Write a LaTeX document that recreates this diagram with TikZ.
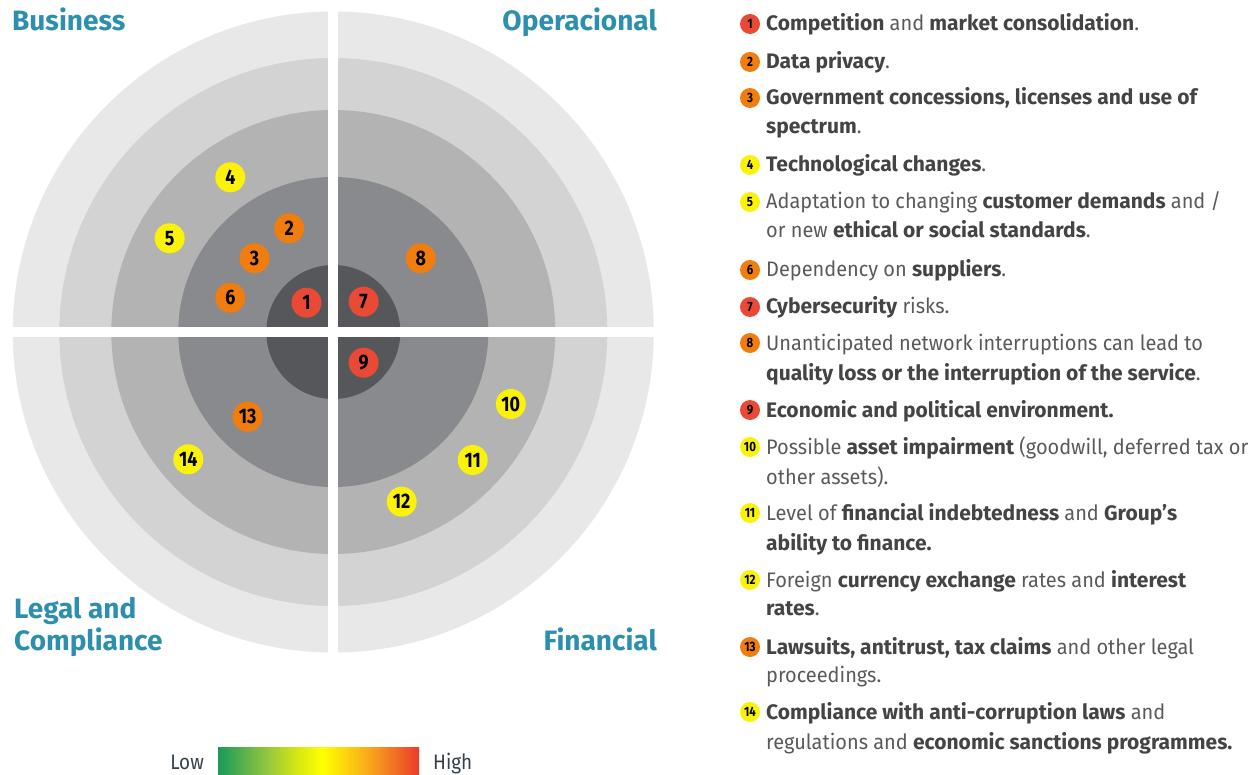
\documentclass[tikz,border=0pt]{standalone}
\usepackage{fontspec}
\setmainfont{Fira Sans}
\newfontfamily\thinfont[FakeStretch=0.95]{Fira Sans}
\newfontfamily\legfont[FakeStretch=0.9]{Fira Sans}
\newfontfamily\numfont[FakeStretch=0.85]{Fira Sans}
\definecolor{ringA}{HTML}{E8E8E8}
\definecolor{ringB}{HTML}{D3D3D3}
\definecolor{ringC}{HTML}{B3B3B3}
\definecolor{ringD}{HTML}{888A8D}
\definecolor{ringE}{HTML}{55575B}
\definecolor{headc}{HTML}{2D8FAE}
\definecolor{regc}{HTML}{5A5A5A}
\definecolor{boldc}{HTML}{444444}
\definecolor{rred}{HTML}{E84A35}
\definecolor{rorange}{HTML}{F07D0E}
\definecolor{ryellow}{HTML}{FBF20A}
\definecolor{legc}{HTML}{36404A}
\definecolor{gA}{HTML}{189A5A}
\definecolor{gB}{HTML}{96C83C}
\definecolor{gC}{HTML}{D8E812}
\definecolor{gD}{HTML}{FFFF00}
\definecolor{gE}{HTML}{F8A81C}
\definecolor{gF}{HTML}{EC3A2B}
\pgfdeclarehorizontalshading{riskbar}{100bp}{color(0bp)=(gA); color(25bp)=(gA); color(37.5bp)=(gB); color(45bp)=(gC); color(51bp)=(gD); color(62.5bp)=(gE); color(75bp)=(gF); color(100bp)=(gF)}
\newcommand{\bt}[1]{{\normalfont\bfseries\color{boldc}#1}}
\tikzset{
  bigbadge/.style={circle, minimum size=30pt, inner sep=0pt, font=\fontsize{21}{21}\selectfont\numfont\bfseries, text=black},
  smallbadge/.style={circle, minimum size=20pt, inner sep=0pt, font=\fontsize{13.5}{14}\selectfont\numfont\bfseries, text=black},
  head/.style={inner sep=0pt, font=\fontsize{28}{30}\selectfont\bfseries, text=headc},
  listline/.style={anchor=base west, inner sep=0pt, font=\fontsize{21}{24}\selectfont\thinfont, text=regc},
  legtext/.style={inner sep=0pt, font=\fontsize{21}{24}\selectfont\legfont, text=legc},
}
\begin{document}
\begin{tikzpicture}[x=1pt,y=-1pt]
\useasboundingbox (0,0) rectangle (1260,775);
\fill[white] (0,0) rectangle (1260,775);
% rings
\coordinate (ctr) at (333.3,332);
\fill[ringA] (ctr) circle (320.5pt);
\fill[ringB] (ctr) circle (274pt);
\fill[ringC] (ctr) circle (222pt);
\fill[ringD] (ctr) circle (155pt);
\fill[ringE] (ctr) circle (67pt);
% white cross
\fill[white] (328.3,5) rectangle (338.3,662);
\fill[white] (5,327) rectangle (662,337);
% headings
\node[head, anchor=base west] (hbus) at (12,30.5) {Business};
\node[head, anchor=base east] (hop) at (657,30.5) {Operacional};
\node[head, anchor=base west] (hleg1) at (14,618) {Legal and};
\node[head, anchor=base west] (hleg2) at (14,650) {Compliance};
\node[head, anchor=base east] (hfin) at (657,650) {Financial};
% badges on target
\node[bigbadge, fill=rred] (b1) at (306.5,302.7) {1};
\node[bigbadge, fill=rorange] (b2) at (289.2,228.3) {2};
\node[bigbadge, fill=rorange] (b3) at (254.5,258.3) {3};
\node[bigbadge, fill=ryellow] (b4) at (230.3,177.3) {4};
\node[bigbadge, fill=ryellow] (b5) at (169.7,238.3) {5};
\node[bigbadge, fill=rorange] (b6) at (230.3,297.7) {6};
\node[bigbadge, fill=rred] (b7) at (363.6,301.7) {7};
\node[bigbadge, fill=rorange] (b8) at (420.8,258.3) {8};
\node[bigbadge, fill=rred] (b9) at (363.6,362.7) {9};
\node[bigbadge, fill=ryellow] (b10) at (510.8,404) {10};
\node[bigbadge, fill=ryellow] (b11) at (472.7,460) {11};
\node[bigbadge, fill=ryellow] (b12) at (401.7,501.7) {12};
\node[bigbadge, fill=rorange] (b13) at (247.6,416.7) {13};
\node[bigbadge, fill=ryellow] (b14) at (188.3,459.3) {14};
% legend bar
\shade[shading=riskbar] (218,747.5) rectangle (419,776);
\node[legtext, anchor=base east] (low) at (204,769.5) {Low};
\node[legtext, anchor=base west] (high) at (433,769.5) {High};
% list badges
\node[smallbadge, fill=rred] (s1) at (750,24) {1};
\node[smallbadge, fill=rorange] (s2) at (750,62) {2};
\node[smallbadge, fill=rorange] (s3) at (750,98) {3};
\node[smallbadge, fill=ryellow] (s4) at (750,165) {4};
\node[smallbadge, fill=ryellow] (s5) at (750,202) {5};
\node[smallbadge, fill=rorange] (s6) at (750,270) {6};
\node[smallbadge, fill=rred] (s7) at (750,307) {7};
\node[smallbadge, fill=rorange] (s8) at (750,343) {8};
\node[smallbadge, fill=rred] (s9) at (750,410) {9};
\node[smallbadge, fill=ryellow] (s10) at (750,447) {10};
\node[smallbadge, fill=ryellow] (s11) at (750,513) {11};
\node[smallbadge, fill=ryellow] (s12) at (750,580) {12};
\node[smallbadge, fill=rorange] (s13) at (750,647) {13};
\node[smallbadge, fill=ryellow] (s14) at (750,712) {14};
% list text
\node[listline] (t1a) at (766,31) {\bt{Competition} and \bt{market consolidation}.};
\node[listline] (t2a) at (766,69) {\bt{Data privacy}.};
\node[listline] (t3a) at (766,105) {\bt{Government concessions, licenses and use of}};
\node[listline] (t3b) at (766,134) {\bt{spectrum}.};
\node[listline] (t4a) at (766,172) {\bt{Technological changes}.};
\node[listline] (t5a) at (766,209) {Adaptation to changing \bt{customer demands} and /};
\node[listline] (t5b) at (766,238) {or new \bt{ethical or social standards}.};
\node[listline] (t6a) at (766,277) {Dependency on \bt{suppliers}.};
\node[listline] (t7a) at (766,314) {\bt{Cybersecurity} risks.};
\node[listline] (t8a) at (766,350) {Unanticipated network interruptions can lead to};
\node[listline] (t8b) at (766,380) {\bt{quality loss or the interruption of the service}.};
\node[listline] (t9a) at (766,417) {\bt{Economic and political environment.}};
\node[listline] (t10a) at (766,454) {Possible \bt{asset impairment} (goodwill, deferred tax or};
\node[listline] (t10b) at (766,484) {other assets).};
\node[listline] (t11a) at (766,520) {Level of \bt{financial indebtedness} and \bt{Group’s}};
\node[listline] (t11b) at (766,550) {\bt{ability to finance.}};
\node[listline] (t12a) at (766,587) {Foreign \bt{currency exchange} rates and \bt{interest}};
\node[listline] (t12b) at (766,615) {\bt{rates}.};
\node[listline] (t13a) at (766,654) {\bt{Lawsuits, antitrust, tax claims} and other legal};
\node[listline] (t13b) at (766,682) {proceedings.};
\node[listline] (t14a) at (766,719) {\bt{Compliance with anti-corruption laws} and};
\node[listline] (t14b) at (766,749) {regulations and \bt{economic sanctions programmes.}};
\end{tikzpicture}
\end{document}
